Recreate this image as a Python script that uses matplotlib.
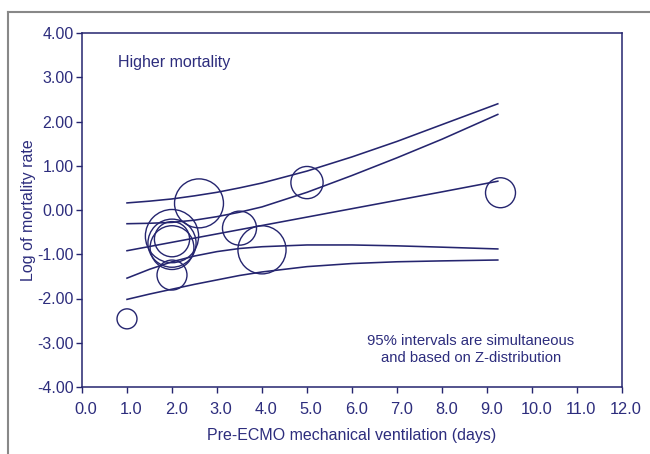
import numpy as np
import matplotlib.pyplot as plt
from matplotlib.lines import Line2D
from matplotlib.transforms import ScaledTranslation

plt.rcParams['font.family'] = ['Liberation Sans', 'DejaVu Sans']

# studies: ventilation days, log mortality rate, relative weight
days = [1.0, 2.0, 2.6, 3.5, 4.0, 5.0, 9.3, 2.0, 2.0, 2.0, 2.0]
log_rate = [-2.46, -1.47, 0.15, -0.41, -0.90, 0.62, 0.39, -0.59, -0.75, -0.85, -0.66]
weight = [1.0, 2.25, 6.0, 2.9, 5.8, 2.6, 2.25, 7.1, 5.8, 4.8, 3.1]

# regression line and simultaneous 95% bands
fit_x = [1.0, 1.5, 2.0, 2.5, 3.0, 3.5, 4.0, 5.0, 6.0, 7.0, 8.0, 9.24]
fit_mid = [-0.92, -0.825, -0.73, -0.635, -0.54, -0.445, -0.35, -0.16, 0.03, 0.22, 0.41, 0.65]
inner_up = [-0.31, -0.30, -0.28, -0.23, -0.15, -0.05, 0.07, 0.40, 0.78, 1.18, 1.60, 2.16]
outer_up = [0.16, 0.20, 0.25, 0.32, 0.40, 0.50, 0.61, 0.88, 1.20, 1.55, 1.93, 2.40]
inner_lo = [-1.54, -1.34, -1.17, -1.04, -0.94, -0.87, -0.83, -0.79, -0.79, -0.81, -0.84, -0.88]
outer_lo = [-2.02, -1.90, -1.79, -1.68, -1.58, -1.48, -1.40, -1.28, -1.21, -1.17, -1.15, -1.13]

xticks = np.arange(0, 12.1, 1.0)
yticks = np.arange(-4, 4.1, 1.0)

navy = '#25256f'
txt = '#2d2d7d'
fs = 11.5

fig = plt.figure(figsize=(6.5, 4.54), dpi=100)
ax = fig.add_axes([82 / 650, 1 - 387 / 454, 540 / 650, 354 / 454])

for ys in [outer_up, inner_up, fit_mid, inner_lo, outer_lo]:
    ax.plot(fit_x, ys, color=navy, lw=1.15)

ax.scatter(days, log_rate, s=np.array(weight) * 207, facecolors='none',
           edgecolors=navy, linewidths=1.0, zorder=3)

ax.set_xlim(0, 12)
ax.set_ylim(-4, 4)
ax.set_xticks(xticks)
ax.set_xticklabels(['%.1f' % v for v in xticks])
ax.set_yticks(yticks)
ax.set_yticklabels(['%.2f' % v for v in yticks])
ax.tick_params(colors=navy, labelcolor=txt, labelsize=fs, length=4, width=1)
ax.tick_params(axis='x', pad=6.5, labelsize=11.8)
ax.tick_params(axis='y', pad=2)
# x labels sit a little right of their ticks in the original
shift = ScaledTranslation(3 / 72, 0, fig.dpi_scale_trans)
for lab in ax.get_xticklabels():
    lab.set_transform(lab.get_transform() + shift)
for sp in ax.spines.values():
    sp.set_color(navy)
    sp.set_linewidth(1.1)

ax.set_xlabel('Pre-ECMO mechanical ventilation (days)', color=txt, fontsize=fs, labelpad=8)
ax.set_ylabel('Log of mortality rate', color=txt, fontsize=fs, labelpad=1)

ax.text(0.8, 3.34, 'Higher mortality', color=txt, fontsize=fs, va='center')
ax.text(8.64, -3.15, '95% intervals are simultaneous\nand based on Z-distribution',
        color=txt, fontsize=10.7, ha='center', va='center', linespacing=1.25)

# outer frame
fig.add_artist(Line2D([8 / 650, 1], [1 - 12 / 454, 1 - 12 / 454], color='#888888', lw=1.5))
fig.add_artist(Line2D([8 / 650, 8 / 650], [0, 1 - 12 / 454], color='#888888', lw=1.5))

fig.savefig('out.png', dpi=100)
